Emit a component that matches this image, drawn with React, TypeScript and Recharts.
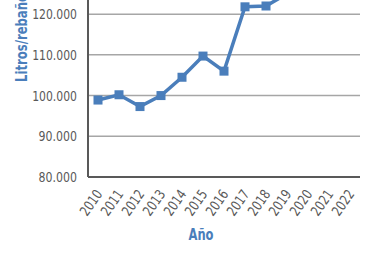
import React from "react";
import { LineChart, Line, XAxis, YAxis, CartesianGrid } from "recharts";

const years = ["2010", "2011", "2012", "2013", "2014", "2015", "2016", "2017", "2018", "2019", "2020", "2021", "2022"];
const litros = [98900, 100200, 97300, 100000, 104500, 109700, 106000, 121800, 122000, 125000, 128000, 131000, 133500];
const yTicks = [80000, 90000, 100000, 110000, 120000, 130000, 140000, 150000];

const data = years.map((year, i) => ({ year, litros: litros[i] }));

const FONT = "'Liberation Sans Narrow', 'DejaVu Sans Condensed', sans-serif";
const BLUE = "#4a7ebb";
const GREY = "#595959";

// 98900 -> "98.900"
const fmt = (v: number) => String(v).replace(/\B(?=(\d{3})+(?!\d))/g, ".");

const YearTick = (props: any) => {
  const { x, y, payload } = props;
  const tx = x + 5;
  const ty = y + 17;
  return (
    <text x={tx} y={ty} textAnchor="end" fill={GREY} fontSize={14} fontFamily={FONT}
      textLength={28} lengthAdjust="spacingAndGlyphs"
      transform={`rotate(-55 ${tx} ${ty})`}>
      {payload.value}
    </text>
  );
};

const ValueTick = (props: any) => {
  const { x, y, payload } = props;
  const s = fmt(payload.value);
  return (
    <text x={x} y={y} dy={5} textAnchor="end" fill={GREY} fontSize={14} fontFamily={FONT}
      textLength={s.length * 6.4} lengthAdjust="spacingAndGlyphs">
      {s}
    </text>
  );
};

const YTitle = (props: any) => {
  const vb = props.viewBox;
  const cx = 22;
  const cy = vb.y + vb.height / 2 + 3.5;
  return (
    <text x={cx} y={cy} textAnchor="middle" dominantBaseline="central" fill={BLUE}
      fontSize={15} fontWeight="bold" fontFamily={FONT}
      textLength={88} lengthAdjust="spacingAndGlyphs"
      transform={`rotate(-90 ${cx} ${cy})`}>
      Litros/rebaño
    </text>
  );
};

const XTitle = (props: any) => {
  const vb = props.viewBox;
  return (
    <text x={201} y={vb.y + 63} textAnchor="middle" fill={BLUE}
      fontSize={16} fontWeight="bold" fontFamily={FONT}
      textLength={25} lengthAdjust="spacingAndGlyphs">
      Año
    </text>
  );
};

export default function App() {
  return (
    <div style={{ position: "fixed", left: 0, top: 0, width: 380, height: 260, overflow: "hidden", background: "#fff" }}>
      <div style={{ marginTop: -118 }}>
        <LineChart width={380} height={378} data={data} margin={{ top: 10, right: 20, left: 0, bottom: 13 }}>
          <CartesianGrid vertical={false} stroke="#a6a6a6" strokeWidth={1.5} />
          <XAxis
            dataKey="year"
            height={70}
            interval={0}
            padding={{ left: 10, right: 10 }}
            tickLine={false}
            tickSize={0}
            tickMargin={0}
            axisLine={{ stroke: GREY, strokeWidth: 2 }}
            tick={<YearTick />}
            label={<XTitle />}
          />
          <YAxis
            width={88}
            domain={[80000, 150000]}
            ticks={yTicks}
            interval={0}
            tickLine={false}
            tickMargin={5}
            axisLine={{ stroke: GREY, strokeWidth: 2 }}
            tick={<ValueTick />}
            label={<YTitle />}
          />
          <Line
            type="linear"
            dataKey="litros"
            stroke={BLUE}
            strokeWidth={3.5}
            dot={(p: any) => (
              <rect key={p.index} x={p.cx - 4.5} y={p.cy - 4.5} width={9} height={9} fill={BLUE} />
            )}
            isAnimationActive={false}
          />
        </LineChart>
      </div>
    </div>
  );
}
